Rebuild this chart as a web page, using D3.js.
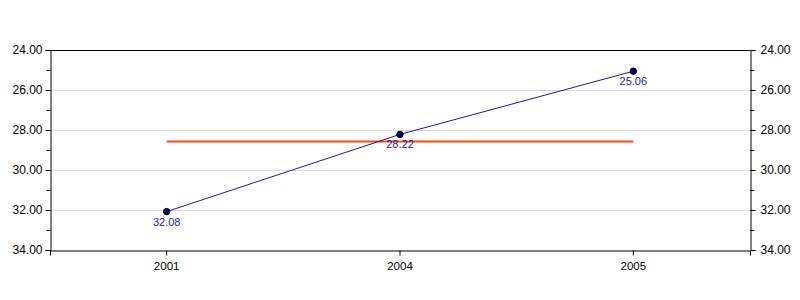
<!DOCTYPE html>
<html>
<head>
<meta charset="utf-8">
<script src="https://cdn.jsdelivr.net/npm/d3@7/dist/d3.min.js"></script>
<style>
body{margin:0;background:#fff;}
text{font-family:Arial,"Liberation Sans",sans-serif;}
</style>
</head>
<body>
<svg id="c" width="800" height="300"></svg>
<script>
const categories = ["2001", "2004", "2005"];
const values = [32.08, 28.22, 25.06];
const referenceValue = 28.58;
const yTicks = [24, 26, 28, 30, 32, 34];
const yMinorTicks = [25, 27, 29, 31, 33];

const svg = d3.select("#c");
const m = {l:50, r:50, t:50, b:50};
const W = 800, H = 300;
const x = d3.scaleBand().domain(categories).range([m.l, W - m.r]);
const y = d3.scaleLinear().domain([24, 34]).range([m.t, H - m.b]);
const cx = d => x(d) + x.bandwidth() / 2;

// gridlines
svg.append("g").selectAll("line").data(yTicks.slice(1, -1)).join("line")
  .attr("x1", m.l).attr("x2", W - m.r)
  .attr("y1", d => y(d) + 0.5).attr("y2", d => y(d) + 0.5)
  .attr("stroke", "#d9d9d9").attr("stroke-width", 1);

// top border
svg.append("line").attr("x1", m.l).attr("x2", W - m.r)
  .attr("y1", m.t + 0.5).attr("y2", m.t + 0.5).attr("stroke", "#000");

const fmt = d3.format(".2f");
const leftAxis = d3.axisLeft(y).tickValues(yTicks).tickFormat(fmt).tickSizeOuter(0).tickSize(5).tickPadding(3);
const rightAxis = d3.axisRight(y).tickValues(yTicks).tickFormat(fmt).tickSizeOuter(0).tickSize(5).tickPadding(5);

const gl = svg.append("g").attr("transform", `translate(${m.l + 0.5},0)`).call(leftAxis);
const gr = svg.append("g").attr("transform", `translate(${W - m.r + 0.5},0)`).call(rightAxis);
[gl, gr].forEach(g => {
  g.select(".domain").attr("stroke", "#000");
  g.selectAll("text").attr("font-size", 12).attr("fill", "#000").attr("font-family", "Arial, Liberation Sans, sans-serif");
  g.selectAll("line").attr("stroke", "#000");
});
// minor ticks
gl.append("g").selectAll("line").data(yMinorTicks).join("line")
  .attr("x1", -4).attr("x2", 0).attr("y1", d => y(d) + 0.5).attr("y2", d => y(d) + 0.5).attr("stroke", "#000");
gr.append("g").selectAll("line").data(yMinorTicks).join("line")
  .attr("x1", 0).attr("x2", 4).attr("y1", d => y(d) + 0.5).attr("y2", d => y(d) + 0.5).attr("stroke", "#000");

const xAxis = d3.axisBottom(x).tickSizeOuter(0).tickSize(5).tickPadding(6);
const gx = svg.append("g").attr("transform", `translate(0,${H - m.b + 0.5})`).call(xAxis);
gx.select(".domain").attr("stroke", "#000");
gx.selectAll("line").attr("stroke", "#000");
gx.selectAll("text").attr("font-size", 11.5).attr("fill", "#000").attr("font-family", "Arial, Liberation Sans, sans-serif");

// reference line
svg.append("line")
  .attr("x1", cx(categories[0])).attr("x2", cx(categories[categories.length - 1]))
  .attr("y1", y(referenceValue)).attr("y2", y(referenceValue))
  .attr("stroke", "#ff4a0a").attr("stroke-width", 2);

const data = categories.map((c, i) => ({c, v: values[i]}));
svg.append("path").datum(data)
  .attr("d", d3.line().x(d => cx(d.c)).y(d => y(d.v)))
  .attr("fill", "none").attr("stroke", "#1a1aa0").attr("stroke-width", 1);

svg.append("g").selectAll("circle").data(data).join("circle")
  .attr("cx", d => cx(d.c)).attr("cy", d => y(d.v)).attr("r", 3.2)
  .attr("fill", "#00007a").attr("stroke", "#000").attr("stroke-width", 1);

svg.append("g").selectAll("text").data(data).join("text")
  .attr("x", d => cx(d.c)).attr("y", d => y(d.v) + 14)
  .attr("text-anchor", "middle").attr("font-size", 11).attr("fill", "#1a1aa0")
  .text(d => fmt(d.v));
</script>
</body>
</html>
